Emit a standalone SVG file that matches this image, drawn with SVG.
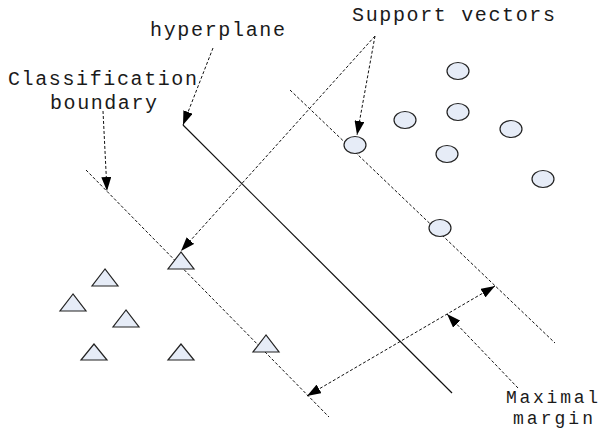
<svg xmlns="http://www.w3.org/2000/svg" width="600" height="434" viewBox="0 0 600 434">
<defs>
<style>
.lbl{font-family:"Liberation Mono","DejaVu Sans Mono",monospace;font-size:20px;fill:#1a1a1a}
.lbl2{font-family:"Liberation Mono","DejaVu Sans Mono",monospace;font-size:18px;fill:#1a1a1a}
.dash{stroke:#111;stroke-width:1;stroke-dasharray:3,2;fill:none}
.solid{stroke:#111;stroke-width:1.2;fill:none}
.pt{fill:#e6ecf7;stroke:#222;stroke-width:1.2}
</style>
<marker id="ah" viewBox="0 0 14 10" markerWidth="14" markerHeight="10" refX="14" refY="5" orient="auto-start-reverse" markerUnits="userSpaceOnUse">
<path d="M0,0 L14,5 L0,10 z" fill="#000"/>
</marker>
</defs>
<rect width="600" height="434" fill="#fff"/>
<g id="lines">
<line id="hyperplane-line" class="solid" x1="183" y1="125" x2="452" y2="393"/>
<line id="boundary-left" class="dash" x1="86" y1="170" x2="329" y2="417"/>
<line id="boundary-right" class="dash" x1="290" y1="90" x2="555" y2="343"/>
</g>
<g id="points">
<g id="circles">
<ellipse class="pt" cx="458" cy="71" rx="11" ry="8.5"/>
<ellipse class="pt" cx="405" cy="120" rx="11" ry="8.5"/>
<ellipse class="pt" cx="458" cy="112" rx="11" ry="8.5"/>
<ellipse class="pt" cx="511" cy="129" rx="11" ry="8.5"/>
<ellipse class="pt" cx="355" cy="145" rx="11" ry="8.5"/>
<ellipse class="pt" cx="447" cy="154" rx="11" ry="8.5"/>
<ellipse class="pt" cx="543" cy="179" rx="11" ry="8.5"/>
<ellipse class="pt" cx="440" cy="228" rx="11" ry="8.5"/>
</g>
<g id="triangles">
<polygon class="pt" points="181,252 168,269 194,269"/>
<polygon class="pt" points="105,269 92,286 118,286"/>
<polygon class="pt" points="73,294 60,311 86,311"/>
<polygon class="pt" points="126,310 113,327 139,327"/>
<polygon class="pt" points="94,344 81,360 107,360"/>
<polygon class="pt" points="181,344 168,360 194,360"/>
<polygon class="pt" points="266,335 253,352 279,352"/>
</g>
</g>
<g id="connectors">
<line class="dash" x1="213" y1="48" x2="183" y2="125" marker-end="url(#ah)"/>
<line class="dash" x1="103" y1="111" x2="107" y2="191" marker-end="url(#ah)"/>
<line class="dash" x1="375" y1="36" x2="357" y2="135" marker-end="url(#ah)"/>
<line class="dash" x1="375" y1="36" x2="181" y2="251" marker-end="url(#ah)"/>
<line class="dash" x1="307" y1="396" x2="495" y2="286" marker-start="url(#ah)" marker-end="url(#ah)"/>
<line class="dash" x1="518" y1="388" x2="447" y2="314" marker-end="url(#ah)"/>
</g>
<g id="label-hyperplane"><text class="lbl" x="150" y="36" textLength="135">hyperplane</text></g>
<g id="label-classification"><text class="lbl" x="8" y="85" textLength="189">Classification</text>
<text class="lbl" x="50" y="109" textLength="107">boundary</text></g>
<g id="label-support"><text class="lbl" x="352" y="21" textLength="203">Support vectors</text></g>
<g id="label-margin"><text class="lbl2" x="506" y="403" textLength="92">Maximal</text>
<text class="lbl2" x="513" y="424" textLength="80">margin</text></g>
</svg>
